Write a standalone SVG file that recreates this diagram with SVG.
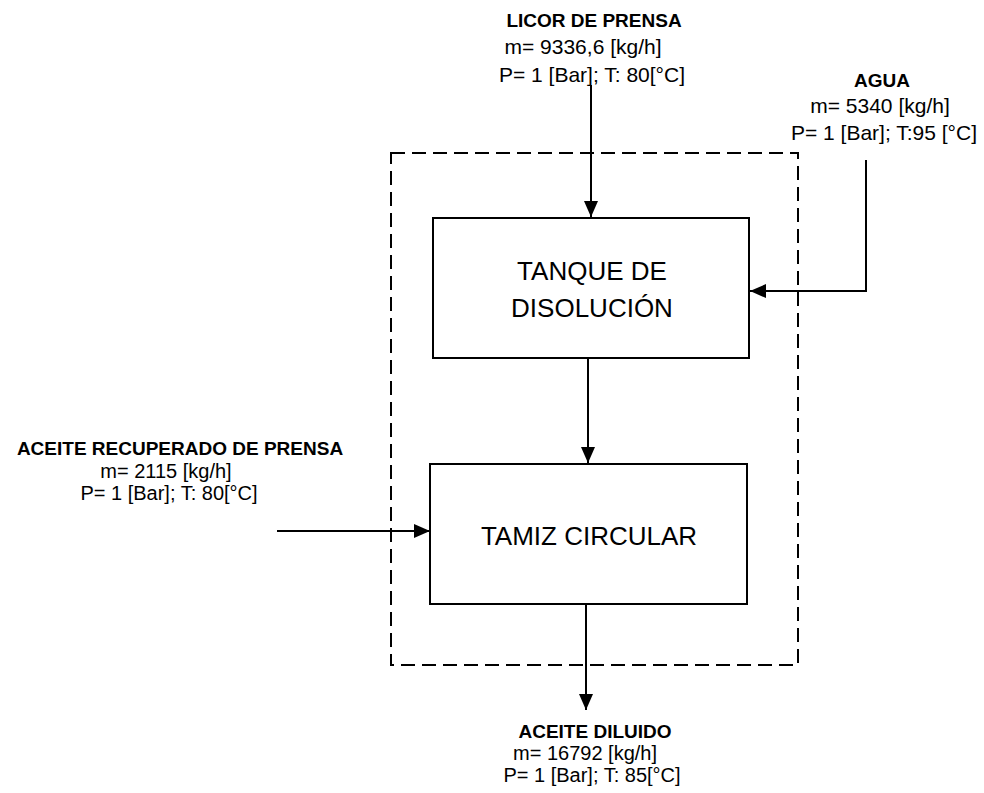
<svg xmlns="http://www.w3.org/2000/svg" width="984" height="793" viewBox="0 0 984 793">
<style>
.box{fill:#fff;stroke:#000;stroke-width:2}
.bound{fill:none;stroke:#000;stroke-width:2;stroke-dasharray:14 7}
.ln{fill:none;stroke:#000;stroke-width:2;marker-end:url(#ah)}
.t{font-family:"Liberation Sans",Arial,sans-serif;fill:#000;text-anchor:middle}
.b{font-size:19px;font-weight:bold}
.n{font-size:21px}
.s{font-size:20px}
.lab{font-size:26px}
</style>
<defs>
<marker id="ah" markerUnits="userSpaceOnUse" markerWidth="16" markerHeight="14" viewBox="0 0 16 14" refX="16" refY="7" orient="auto">
<path d="M0,0 L16,7 L0,14 Z" fill="#000"/>
</marker>
</defs>
<rect class="bound" x="391" y="153" width="407" height="512"/>
<g id="connectors">
<line class="ln" x1="591" y1="85" x2="591" y2="217"/>
<polyline class="ln" points="866,160 866,291 750,291"/>
<line class="ln" x1="588" y1="358" x2="588" y2="463"/>
<line class="ln" x1="277" y1="531" x2="430" y2="531"/>
<line class="ln" x1="586" y1="604" x2="586" y2="710"/>
</g>
<g id="tanque">
<rect class="box" x="433" y="218" width="316" height="140"/>
<text class="t lab" x="592" y="280">TANQUE DE</text>
<text class="t lab" x="592" y="317">DISOLUCIÓN</text>
</g>
<g id="tamiz">
<rect class="box" x="430" y="464" width="317" height="140"/>
<text class="t lab" x="589" y="545">TAMIZ CIRCULAR</text>
</g>
<g id="licor">
<text class="t b" x="594" y="27">LICOR DE PRENSA</text>
<text class="t n" x="583" y="54">m= 9336,6 [kg/h]</text>
<text class="t n" x="592" y="82">P= 1 [Bar]; T: 80[°C]</text>
</g>
<g id="agua">
<text class="t b" x="882" y="87">AGUA</text>
<text class="t n" x="880" y="113">m= 5340 [kg/h]</text>
<text class="t n" x="884" y="140">P= 1 [Bar]; T:95 [°C]</text>
</g>
<g id="aceite-recuperado">
<text class="t b" x="180" y="455">ACEITE RECUPERADO DE PRENSA</text>
<text class="t s" x="166" y="478">m= 2115 [kg/h]</text>
<text class="t s" x="169" y="500">P= 1 [Bar]; T: 80[°C]</text>
</g>
<g id="aceite-diluido">
<text class="t b" x="595" y="738">ACEITE DILUIDO</text>
<text class="t s" x="585" y="760">m= 16792 [kg/h]</text>
<text class="t s" x="592" y="782">P= 1 [Bar]; T: 85[°C]</text>
</g>
</svg>
